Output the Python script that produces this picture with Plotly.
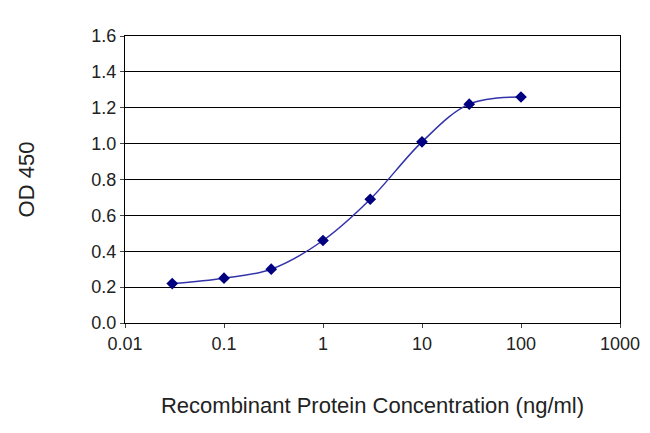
import plotly.graph_objects as go

conc = [0.03, 0.1, 0.3, 1, 3, 10, 30, 100]
od450 = [0.22, 0.25, 0.30, 0.46, 0.69, 1.01, 1.22, 1.26]

x_ticks = [0.01, 0.1, 1, 10, 100, 1000]
x_labels = ["0.01", "0.1", "1", "10", "100", "1000"]
y_ticks = [0.0, 0.2, 0.4, 0.6, 0.8, 1.0, 1.2, 1.4, 1.6]

fig = go.Figure()
fig.add_trace(go.Scatter(
    x=conc, y=od450, mode="lines+markers",
    line=dict(color="#3333aa", width=1.5, shape="spline"),
    marker=dict(symbol="diamond", size=9, color="#000080"),
))
fig.update_layout(
    width=650, height=433,
    margin=dict(l=117, r=38, t=28, b=118),
    paper_bgcolor="white", plot_bgcolor="white",
    showlegend=False,
    font=dict(family="Liberation Sans, Arial", size=18, color="#222"),
)
fig.update_xaxes(
    type="log", range=[-2, 3], tickvals=x_ticks, ticktext=x_labels,
    showgrid=False, showline=True, linecolor="black", mirror=True,
    ticks="outside", ticklen=4, automargin=False,
    title=dict(text="Recombinant Protein Concentration (ng/ml)", standoff=45),
)
fig.update_yaxes(
    range=[0, 1.6], tickvals=y_ticks, tickformat=".1f",
    showgrid=True, gridcolor="black", gridwidth=1,
    showline=True, linecolor="black", mirror=True,
    ticks="outside", ticklen=4, zeroline=False, automargin=False,
    title=dict(text="OD 450", standoff=50),
)
fig.write_html("out.html")
